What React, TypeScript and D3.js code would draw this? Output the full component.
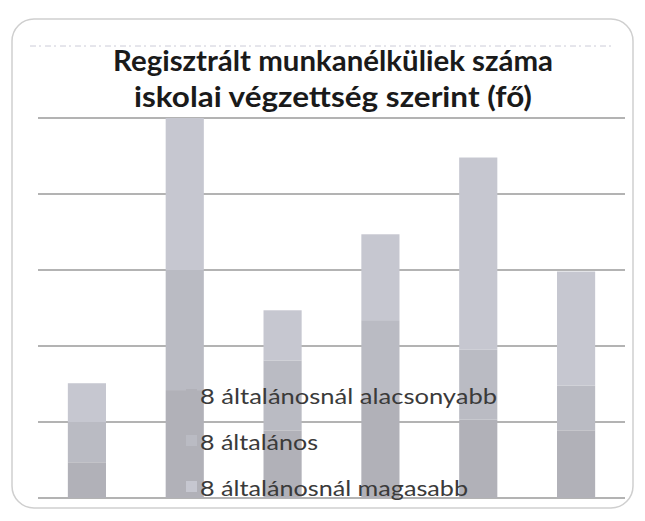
import React from "react";
import * as d3 from "d3";

const categories = ["1", "2", "3", "4", "5", "6"];
const seriesNames = ["8 általánosnál alacsonyabb", "8 általános", "8 általánosnál magasabb"];
const below8 = [47, 142, 89, 129, 103, 89];
const primary8 = [53, 158, 92, 105, 92, 59];
const above8 = [51, 200, 66, 113, 253, 150];
const yTicks = [0, 100, 200, 300, 400, 500];
const titleLines = ["Regisztrált munkanélküliek száma", "iskolai végzettség szerint (fő)"];

const colors = ["#b1b1b8", "#babbc3", "#c6c7d0"];

export default function App() {
  const W = 645, H = 521;
  const left = 38, right = 625, top = 118, bottom = 498;
  const x = d3.scaleBand<string>().domain(categories).range([left, right]).paddingInner(0.61).paddingOuter(0.305);
  const y = d3.scaleLinear().domain([0, 500]).range([bottom, top]);
  const rows = categories.map((c, i) => ({ cat: c, s0: below8[i], s1: primary8[i], s2: above8[i] }));
  const stack = d3.stack<any>().keys(["s0", "s1", "s2"]);
  const layers = stack(rows);

  return (
    <svg width={W} height={H} style={{ position: "absolute", left: 0, top: 0, background: "#fff" }}>
      <rect x={12} y={19} width={621} height={489} rx={22} ry={22} fill="#fff" stroke="#cfcfcf" strokeWidth={1.5} />
      <line x1={30} x2={612} y1={46} y2={46} stroke="#b8b8c8" strokeWidth={1} strokeDasharray="6 3 2 4" opacity={0.7} />
      {titleLines.map((t, i) => (
        <text key={i} x={333} y={71 + i * 36} textAnchor="middle" fontFamily="Lato, 'Open Sans', sans-serif" fontWeight={700}
          fontSize={28} fill="#1a1a1a" textLength={i === 0 ? 440 : 398} lengthAdjust="spacingAndGlyphs">{t}</text>
      ))}
      {yTicks.map((v) => (
        <line key={v} x1={left} x2={right} y1={y(v)} y2={y(v)} stroke="#9a9a9a" strokeWidth={1.3} />
      ))}
      {layers.map((layer, li) => (
        <g key={li} fill={colors[li]}>
          {layer.map((d: any, i: number) => (
            <rect key={i} x={x(d.data.cat)} y={y(d[1])} width={x.bandwidth()} height={y(d[0]) - y(d[1])} />
          ))}
        </g>
      ))}
      {seriesNames.map((n, i) => (
        <g key={n}>
          <rect x={186} y={389 + i * 46} width={11} height={11} fill={colors[i]} />
          <text x={200} y={404 + i * 46} fontFamily="Lato, 'Open Sans', sans-serif" fontSize={21} fill="#3a3a3a"
            textLength={i === 0 ? 297 : i === 1 ? 118 : 268} lengthAdjust="spacingAndGlyphs">{n}</text>
        </g>
      ))}
    </svg>
  );
}
